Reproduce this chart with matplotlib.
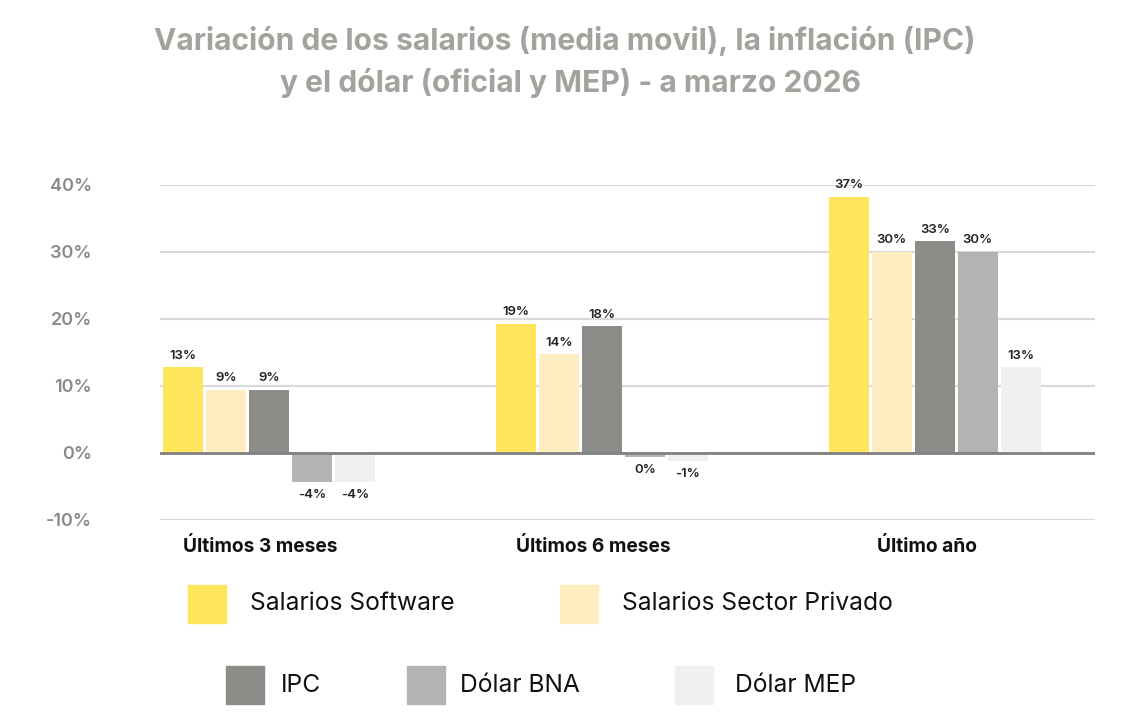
import numpy as np
import matplotlib.pyplot as plt
from matplotlib.patches import Rectangle

# datos
periodos = ["Últimos 3 meses", "Últimos 6 meses", "Último año"]
series = ["Salarios Software", "Salarios Sector Privado", "IPC", "Dólar BNA", "Dólar MEP"]
colores = ["#FFE55C", "#FDEDC0", "#8C8C88", "#B3B3B3", "#F0F0F0"]

sal_software = [12.8, 19.3, 38.2]
sal_privado = [9.4, 14.7, 30.0]
ipc = [9.4, 18.9, 31.6]
dolar_bna = [-4.3, -0.6, 30.0]
dolar_mep = [-4.3, -1.2, 12.8]

etq_software = ["13%", "19%", "37%"]
etq_privado = ["9%", "14%", "30%"]
etq_ipc = ["9%", "18%", "33%"]
etq_bna = ["-4%", "0%", "30%"]
etq_mep = ["-4%", "-1%", "13%"]

valores = [sal_software, sal_privado, ipc, dolar_bna, dolar_mep]
etiquetas = [etq_software, etq_privado, etq_ipc, etq_bna, etq_mep]
y_ticks = [-10, 0, 10, 20, 30, 40]

plt.rcParams['font.family'] = ['Inter', 'DejaVu Sans']

fig = plt.figure(figsize=(11.36, 7.22), dpi=100)
ax = fig.add_axes([0.1408, 0.2798, 0.8231, 0.4640])

x = np.arange(len(periodos))
ancho = 0.12
paso = 0.129

for i, (vals, etqs, color) in enumerate(zip(valores, etiquetas, colores)):
    pos = x + (i - 2) * paso
    ax.bar(pos, vals, width=ancho, color=color, zorder=3)
    for p, v, t in zip(pos, vals, etqs):
        if v >= 0:
            ax.annotate(t, (p, v), xytext=(0, 4), textcoords="offset points",
                        ha="center", va="bottom", fontsize=9.5, fontweight="semibold", color="#222222")
        else:
            ax.annotate(t, (p, v), xytext=(0, -5), textcoords="offset points",
                        ha="center", va="top", fontsize=9.5, fontweight="semibold", color="#222222")

ax.set_xlim(-0.327, 2.481)
ax.set_ylim(-10, 40)
ax.set_yticks(y_ticks)
ax.set_yticklabels([f"{t}%" for t in y_ticks])
ax.tick_params(axis="y", length=0, pad=49, labelsize=13, labelcolor="#8A8A8A")
for lbl in ax.get_yticklabels():
    lbl.set_fontweight("semibold")
ax.set_xticks([])
ax.grid(axis="y", color="#D9D9D9", linewidth=1.5, zorder=0)
ax.axhline(0, color="#808080", linewidth=2, zorder=4)
for s in ax.spines.values():
    s.set_visible(False)

# etiquetas de categoria
for xi, nombre in zip([-0.026, 0.975, 1.976], periodos):
    ax.text(xi, -13.9, nombre, ha="center", va="center", fontsize=13.8,
            fontweight="bold", color="#111111")

fig.text(0.497, 0.943, "Variación de los salarios (media movil), la inflación (IPC)",
         ha="center", va="center", fontsize=21.6, fontweight="bold", color="#A3A39D")
fig.text(0.502, 0.885, "y el dólar (oficial y MEP) - a marzo 2026",
         ha="center", va="center", fontsize=21.6, fontweight="bold", color="#A3A39D")

# leyenda manual
W, H = 1136, 722
leyenda = [
    (188, 585, 250, series[0], colores[0]),
    (560, 585, 622, series[1], colores[1]),
    (226, 666, 281, series[2], colores[2]),
    (407, 666, 460, series[3], colores[3]),
    (675, 666, 735, series[4], colores[4]),
]
for cx, cy, tx, txt, col in leyenda:
    fig.patches.append(Rectangle((cx / W, 1 - (cy + 38) / H), 38 / W, 38 / H,
                                 transform=fig.transFigure, color=col, figure=fig))
    fig.text(tx / W, 1 - (cy + 19) / H, txt, ha="left", va="center",
             fontsize=17.7, color="#111111")

fig.savefig("out.png", dpi=100)
